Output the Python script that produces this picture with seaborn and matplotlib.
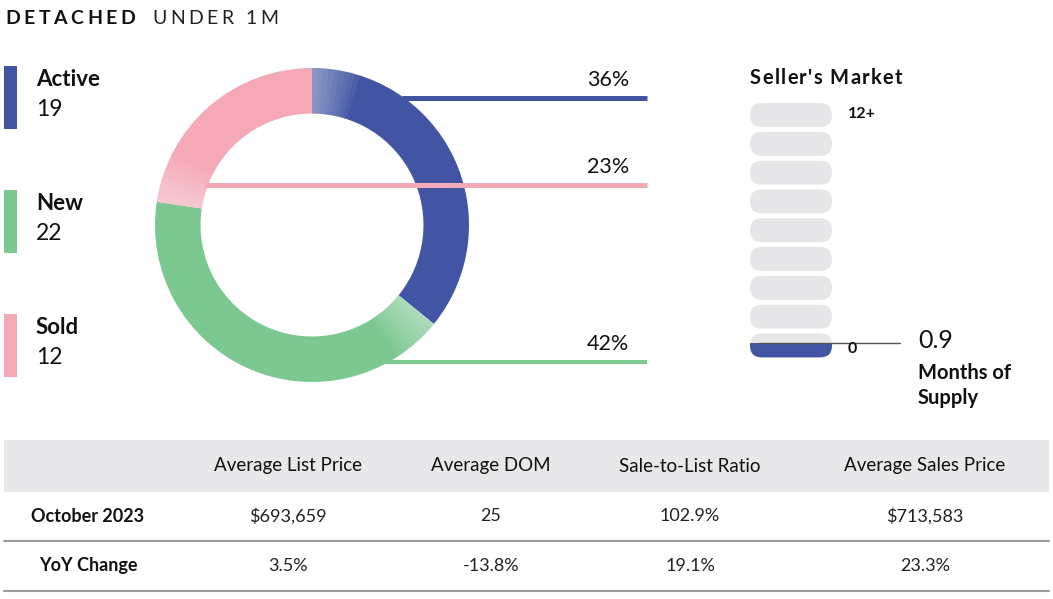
import matplotlib
matplotlib.use('Agg')
import matplotlib.pyplot as plt
import seaborn as sns
from matplotlib.patches import FancyBboxPatch, Rectangle, Wedge

# data
categories = ['Active', 'New', 'Sold']
counts = [19, 22, 12]
colors = ['#4155a4', '#7bc890', '#f5a9b6']
months_supply = 0.9
scale_max = 12
n_pills = 9
table_cols = ['Average List Price', 'Average DOM', 'Sale-to-List Ratio', 'Average Sales Price']
row_labels = ['October 2023', 'YoY Change']
row_values = [['$693,659', '25', '102.9%', '$713,583'],
              ['3.5%', '-13.8%', '19.1%', '23.3%']]

sns.set_theme(style='white')
plt.rcParams['font.family'] = ['Lato', 'DejaVu Sans']

W, H = 1053, 599
fig = plt.figure(figsize=(W / 100, H / 100), dpi=100)

# donut
cx, cy, r = 312, 225, 157
ring = 0.29
pax = fig.add_axes([(cx - r) / W, (H - cy - r) / H, 2 * r / W, 2 * r / H])
pax.pie(counts, colors=colors, startangle=90, counterclock=False, radius=1,
        wedgeprops=dict(width=ring, edgecolor='none'))
# soft fade at the start of each segment (stacked translucent wedges)
total = sum(counts)
start = 0.0
for cnt in counts:
    for k in range(2, 20, 2):
        pax.add_patch(Wedge((0, 0), 1, 90 - (start + k), 90 - start, width=ring,
                            facecolor='white', alpha=0.055, edgecolor='none'))
    start += cnt / total * 360
pax.set_xlim(-1, 1)
pax.set_ylim(-1, 1)
pax.axis('off')

ax = fig.add_axes([0, 0, 1, 1])
ax.set_facecolor('none')
ax.set_xlim(0, W)
ax.set_ylim(H, 0)
ax.axis('off')


def tracked(x, y, s, spacing, **kw):
    # draw text letter by letter to mimic wide letter spacing
    renderer = fig.canvas.get_renderer()
    for ch in s:
        t = ax.text(x, y, ch, va='center', ha='left', **kw)
        bb = t.get_window_extent(renderer=renderer)
        x += bb.width + spacing


tracked(5, 18, 'DETACHED', 3.6, fontsize=14, fontweight='bold', color='#111111')
tracked(152, 18, 'UNDER 1M', 3.6, fontsize=14, color='#222222')

# legend
pcts = [round(c / total * 100) for c in counts]
leg_y = {'Active': 66, 'New': 190, 'Sold': 314}
for cat, cnt, col in zip(categories, counts, colors):
    y0 = leg_y[cat]
    ax.add_patch(Rectangle((4, y0), 13, 63, color=col, lw=0))
    ax.text(36, y0 + 13, cat, fontsize=16, fontweight='bold', va='center', color='#111111')
    ax.text(36, y0 + 44, str(cnt), fontsize=16.5, va='center', color='#111111')

# leader lines and percentage labels
leaders = {'Active': (98, 402, 5), 'Sold': (185, 205, 5), 'New': (362, 385, 4)}
for cat, pct, col in zip(categories, pcts, colors):
    ly, lx0, lw = leaders[cat]
    ax.plot([lx0, 647], [ly, ly], color=col, lw=lw * 0.72, solid_capstyle='butt')
    ax.text(629, ly - 18, f'{pct}%', fontsize=15.5, ha='right',
            va='center', color='#111111')

# seller's market scale
tracked(750, 78, "Seller's Market", 1.3, fontsize=14.5, fontweight='bold', color='#111111')
px, pw, ph = 750, 82, 24
top, step = 103, 28.8
for i in range(n_pills):
    y0 = top + i * step
    ax.add_patch(FancyBboxPatch((px, y0), pw, ph, boxstyle='round,pad=0,rounding_size=12',
                                facecolor='#e6e6e8', edgecolor='none'))
bottom_y = top + (n_pills - 1) * step
fill_frac = months_supply / (scale_max / (n_pills - 1))
blue_pill = FancyBboxPatch((px, bottom_y), pw, ph, boxstyle='round,pad=0,rounding_size=12',
                           facecolor=colors[0], edgecolor='none')
ax.add_patch(blue_pill)
clip = Rectangle((px - 2, bottom_y + ph * (1 - fill_frac)), pw + 4, ph * fill_frac + 2,
                 transform=ax.transData)
blue_pill.set_clip_path(clip)
ax.plot([758, 900], [343, 343], color='#555555', lw=1)
ax.text(848, 114, f'{scale_max}+', fontsize=11.5, fontweight='bold', va='center', color='#111111')
ax.text(848, 349, '0', fontsize=11.5, fontweight='bold', va='center', color='#111111')
ax.text(918, 340, f'{months_supply}', fontsize=18, va='center', color='#111111')
ax.text(918, 373, 'Months of', fontsize=14.5, fontweight='bold', va='center', color='#111111')
ax.text(918, 398, 'Supply', fontsize=14.5, fontweight='bold', va='center', color='#111111')

# table
ax.add_patch(Rectangle((4, 440), 1045, 52, color='#e8e8ea', lw=0))
col_x = [288, 491, 690, 925]
for x, name in zip(col_x, table_cols):
    ax.text(x, 466, name, fontsize=13.5, ha='center', va='center', color='#111111')
row_y = [516, 566]
for y, lab, vals in zip(row_y, row_labels, row_values):
    ax.text(88, y, lab, fontsize=13, fontweight='bold', ha='center', va='center', color='#111111')
    for x, v in zip(col_x, vals):
        ax.text(x, y, v, fontsize=13, ha='center', va='center', color='#222222')
for y in [541, 591]:
    ax.plot([4, 1049], [y, y], color='#9a9a9a', lw=1.5)

fig.savefig('out.png', dpi=100, facecolor='white')
